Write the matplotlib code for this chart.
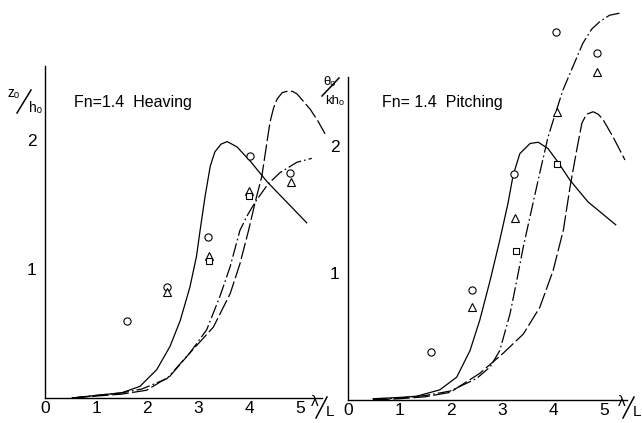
import matplotlib
matplotlib.use("Agg")
import matplotlib.pyplot as plt
from matplotlib.lines import Line2D

FAM = ["Liberation Sans", "DejaVu Sans"]
plt.rcParams['font.family'] = FAM
plt.rcParams['lines.scale_dashes'] = False

# ---------------- data: Heaving (left) ----------------
heave_solid_x = [0.53, 1.0, 1.5, 1.86, 2.19, 2.45, 2.65, 2.84, 2.97, 3.04, 3.14, 3.24, 3.33, 3.45, 3.57, 3.76, 4.02, 4.35, 4.74, 5.13]
heave_solid_y = [0.0, 0.02, 0.04, 0.09, 0.22, 0.40, 0.60, 0.86, 1.10, 1.30, 1.57, 1.80, 1.91, 1.97, 1.99, 1.95, 1.84, 1.68, 1.52, 1.36]
heave_dd_x = [0.53, 1.0, 1.5, 1.9, 2.39, 2.84, 3.17, 3.43, 3.63, 3.82, 3.97, 4.12, 4.37, 4.61, 4.94, 5.23]
heave_dd_y = [0.0, 0.02, 0.04, 0.07, 0.15, 0.35, 0.53, 0.79, 1.02, 1.30, 1.42, 1.52, 1.66, 1.75, 1.83, 1.86]
heave_ld_x = [0.53, 1.0, 1.5, 1.99, 2.45, 2.84, 3.3, 3.63, 3.82, 3.99, 4.12, 4.25, 4.33, 4.41, 4.48, 4.55, 4.65, 4.74, 4.85, 4.94, 5.05, 5.2, 5.35, 5.49]
heave_ld_y = [0.0, 0.015, 0.03, 0.06, 0.17, 0.35, 0.55, 0.81, 1.04, 1.30, 1.52, 1.72, 1.93, 2.14, 2.25, 2.32, 2.37, 2.38, 2.38, 2.36, 2.31, 2.24, 2.15, 2.05]

heave_circ_x = [1.61, 2.39, 3.2, 4.02, 4.8]
heave_circ_y = [0.60, 0.86, 1.25, 1.88, 1.75]
heave_tri_x = [2.39, 3.22, 4.0, 4.82]
heave_tri_y = [0.82, 1.10, 1.61, 1.68]
heave_sq_x = [3.22, 4.0]
heave_sq_y = [1.06, 1.57]

# ---------------- data: Pitching (right) ----------------
pitch_solid_x = [0.49, 1.0, 1.34, 1.79, 2.12, 2.38, 2.57, 2.77, 2.96, 3.12, 3.22, 3.35, 3.55, 3.71, 3.90, 4.1, 4.33, 4.68, 5.22]
pitch_solid_y = [0.01, 0.02, 0.03, 0.08, 0.18, 0.39, 0.63, 0.94, 1.26, 1.55, 1.77, 1.94, 2.02, 2.03, 1.98, 1.87, 1.73, 1.56, 1.38]
pitch_dd_x = [0.49, 1.0, 1.5, 1.99, 2.51, 2.77, 2.96, 3.16, 3.29, 3.42, 3.58, 3.74, 3.90, 4.0, 4.19, 4.39, 4.58, 4.75, 4.91, 5.1, 5.34]
pitch_dd_y = [0.005, 0.015, 0.035, 0.07, 0.17, 0.26, 0.39, 0.68, 0.94, 1.21, 1.50, 1.79, 2.07, 2.20, 2.44, 2.63, 2.81, 2.92, 2.98, 3.03, 3.05]
pitch_ld_x = [0.49, 1.0, 1.5, 1.99, 2.57, 3.03, 3.42, 3.74, 4.0, 4.2, 4.33, 4.46, 4.56, 4.65, 4.78, 4.88, 4.97, 5.17, 5.4]
pitch_ld_y = [0.0, 0.01, 0.025, 0.06, 0.21, 0.37, 0.52, 0.73, 1.02, 1.34, 1.68, 1.97, 2.18, 2.25, 2.27, 2.25, 2.21, 2.07, 1.89]

pitch_circ_x = [1.62, 2.42, 3.24, 4.05, 4.85]
pitch_circ_y = [0.38, 0.87, 1.78, 2.90, 2.73]
pitch_tri_x = [2.42, 3.26, 4.07, 4.85]
pitch_tri_y = [0.73, 1.43, 2.27, 2.58]
pitch_sq_x = [3.28, 4.07]
pitch_sq_y = [1.17, 1.86]

x_ticks = [0, 1, 2, 3, 4, 5]
y_ticks = [1, 2]

W, H = 642, 423
fig = plt.figure(figsize=(W / 100, H / 100), dpi=100)
fig.patch.set_facecolor("white")

def fx(px):
    return px / W

def fy(py):
    return 1 - py / H

axL = fig.add_axes([fx(45), fy(398), 277 / W, 335 / H])
axR = fig.add_axes([fx(348), fy(400), 279 / W, 400 / H])

LW = 0.9
LD = (0, (12, 2.5))
DD = (0, (10, 2.2, 1.2, 2.2))
MS = 5.2
FS = 12.5

def style(ax, xmax, ymax, spine_top):
    ax.set_xlim(0, xmax)
    ax.set_ylim(0, ymax)
    for s in ("top", "right"):
        ax.spines[s].set_visible(False)
    ax.spines["left"].set_bounds(0, spine_top)
    for s in ("left", "bottom"):
        ax.spines[s].set_linewidth(1.0)
        ax.spines[s].set_color("black")
    ax.set_xticks(x_ticks)
    ax.set_yticks(y_ticks)
    ax.tick_params(axis="x", length=0, pad=2, labelsize=FS)
    ax.tick_params(axis="y", length=0, pad=6, labelsize=FS)
    ax.set_facecolor("none")

def draw(ax, sx, sy, dx, dy, lx, ly, cx, cy, tx, ty, qx, qy):
    ax.plot(sx, sy, color="black", lw=LW, clip_on=False)
    ax.plot(dx, dy, color="black", lw=LW, linestyle=DD, clip_on=False)
    ax.plot(lx, ly, color="black", lw=LW, linestyle=LD, clip_on=False)
    ax.plot(cx, cy, "o", ms=MS, mfc="white", mec="black", mew=0.8, clip_on=False)
    ax.plot(tx, ty, "^", ms=MS, mfc="white", mec="black", mew=0.8, clip_on=False)
    ax.plot(qx, qy, "s", ms=MS - 0.4, mfc="white", mec="black", mew=0.8, clip_on=False)

style(axL, 5.43, 2.6, 2.58)
draw(axL, heave_solid_x, heave_solid_y, heave_dd_x, heave_dd_y, heave_ld_x, heave_ld_y,
     heave_circ_x, heave_circ_y, heave_tri_x, heave_tri_y, heave_sq_x, heave_sq_y)

style(axR, 5.44, 3.15, 2.54)
draw(axR, pitch_solid_x, pitch_solid_y, pitch_dd_x, pitch_dd_y, pitch_ld_x, pitch_ld_y,
     pitch_circ_x, pitch_circ_y, pitch_tri_x, pitch_tri_y, pitch_sq_x, pitch_sq_y)

# titles
fig.text(fx(74), fy(102), "Fn=1.4  Heaving", fontsize=11.5, ha="left", va="center")
fig.text(fx(382), fy(102), "Fn= 1.4  Pitching", fontsize=11.5, ha="left", va="center")

# axis labels (stacked slash style); slash drawn as a line
def slash_label(top, x_top, y_top, bot, x_bot, y_bot, sl, fs=10):
    fig.text(fx(x_top), fy(y_top), top, fontsize=fs, ha="center", va="center")
    fig.text(fx(x_bot), fy(y_bot), bot, fontsize=fs, ha="center", va="center")
    (x0, y0), (x1, y1) = sl
    fig.add_artist(Line2D([fx(x0), fx(x1)], [fy(y0), fy(y1)], transform=fig.transFigure,
                          color="black", lw=1.1))

slash_label("z\u2092", 14, 93, "h\u2092", 35, 108, ((17, 113), (31, 90)))
slash_label("\u03b8\u2092", 329, 82, "kh\u2092", 335, 101, ((322, 96), (339, 78)), fs=9.5)
slash_label("\u03bb", 315, 402, "L", 330, 412, ((316, 418), (327, 397)), fs=11)
slash_label("\u03bb", 622, 402, "L", 637, 412, ((623, 418), (634, 397)), fs=11)

fig.savefig("out.png", dpi=100, facecolor="white")
